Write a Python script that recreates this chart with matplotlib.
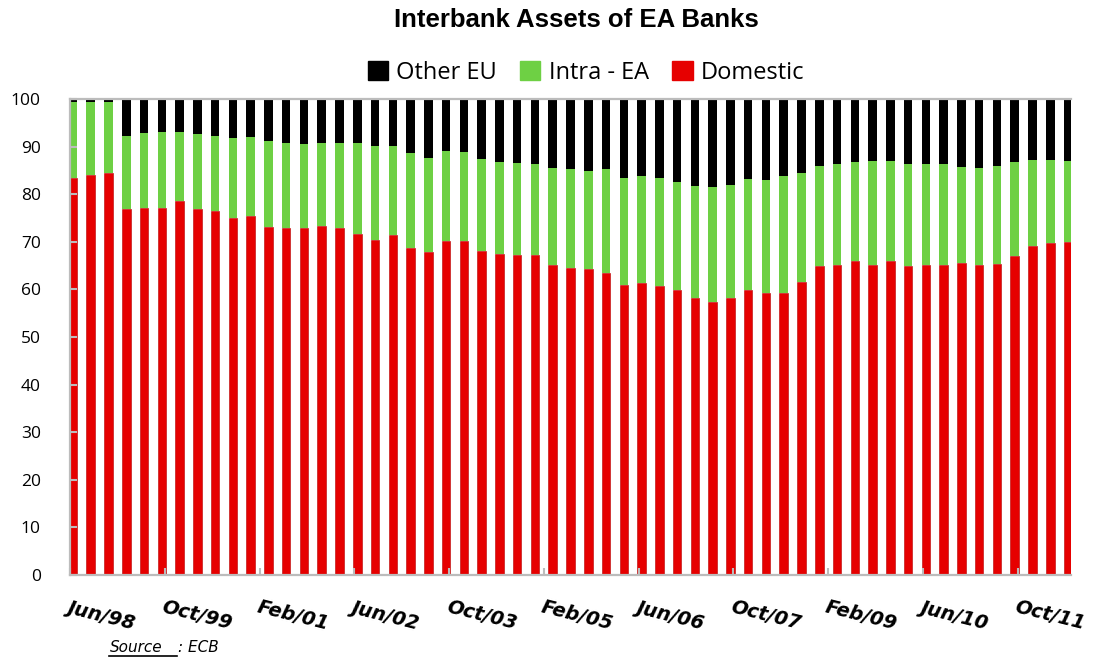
import numpy as np
import pandas as pd
import matplotlib
matplotlib.use("Agg")
import matplotlib.pyplot as plt
from matplotlib import font_manager as fm
from matplotlib.patches import Patch
from matplotlib.lines import Line2D


# quarterly observations, Jun 1998 .. Jun 2012 (shares in %)
quarters = pd.date_range("1998-06-01", periods=57, freq="3MS")

domestic = [83.4, 84.1, 84.5, 76.8, 77.2, 77.0, 78.5, 76.8, 76.4, 75.1,
            75.5, 73.2, 73.0, 73.0, 73.3, 72.8, 71.6, 70.4, 71.4, 68.6,
            67.8, 70.2, 70.2, 68.1, 67.4, 67.2, 67.2, 65.2, 64.4, 64.2,
            63.5, 61.0, 61.3, 60.8, 59.8, 58.2, 57.4, 58.2, 59.9, 59.2,
            59.2, 61.5, 65.0, 65.2, 65.9, 65.2, 65.9, 65.0, 65.2, 65.2,
            65.6, 65.2, 65.4, 67.1, 69.1, 69.7, 70.0]
intra_ea = [16.0, 15.2, 14.8, 15.4, 15.6, 16.0, 14.6, 15.8, 15.8, 16.7,
            16.5, 18.0, 17.7, 17.5, 17.4, 17.9, 19.1, 19.7, 18.7, 20.0,
            19.9, 18.8, 18.6, 19.2, 19.4, 19.4, 19.2, 20.4, 20.8, 20.7,
            21.7, 22.3, 22.5, 22.5, 22.7, 23.5, 24.1, 23.7, 23.3, 23.7,
            24.6, 23.0, 21.0, 21.2, 20.9, 21.8, 21.1, 21.4, 21.2, 21.2,
            20.2, 20.4, 20.6, 19.7, 18.1, 17.5, 17.0]
other_eu = [0.6, 0.7, 0.7, 7.8, 7.2, 7.0, 6.9, 7.4, 7.8, 8.2,
            8.0, 8.8, 9.3, 9.5, 9.3, 9.3, 9.3, 9.9, 9.9, 11.4,
            12.3, 11.0, 11.2, 12.7, 13.2, 13.4, 13.6, 14.4, 14.8, 15.1,
            14.8, 16.7, 16.2, 16.7, 17.5, 18.3, 18.5, 18.1, 16.8, 17.1,
            16.2, 15.5, 14.0, 13.6, 13.2, 13.0, 13.0, 13.6, 13.6, 13.6,
            14.2, 14.4, 14.0, 13.2, 12.8, 12.8, 13.0]

tick_dates = pd.date_range("1998-06-01", periods=11, freq="16MS")

RED = "#e60000"
GREEN = "#6ed044"
BLACK = "#000000"
GREY = "#bcbcbc"


def _months(d):  # months since Jun/98
    return (d.year - 1998) * 12 + d.month - 6


x = np.array([_months(d) for d in quarters]) + 0.5
dom = np.array(domestic)
intra = np.array(intra_ea)
oth = np.array(other_eu)

fig = plt.figure(figsize=(10.94, 6.6), dpi=100)
ax = fig.add_axes([70 / 1094, 1 - 575 / 660, 1001 / 1094, 476 / 660])

w = 1.45
ax.bar(x, dom, width=w, color=RED, edgecolor="#b80000", linewidth=0.4)
ax.bar(x, intra, width=w, bottom=dom, color=GREEN, linewidth=0)
ax.bar(x, oth, width=w, bottom=dom + intra, color=BLACK, linewidth=0)

ax.set_xlim(0, _months(quarters[-1]) + 1)
ax.set_ylim(0, 100)
ax.set_yticks(np.arange(0, 101, 10))
ax.tick_params(axis="y", direction="in", length=5, width=1.5, color=GREY,
               labelsize=12.5, pad=21)
for lab in ax.get_yticklabels():
    lab.set_fontfamily("Open Sans")

ax.set_xticks([_months(d) for d in tick_dates])
ax.set_xticklabels([d.strftime("%b/%y") for d in tick_dates],
                   rotation=-14, ha="left", va="top", rotation_mode="anchor",
                   fontsize=14, fontstyle="italic", fontweight="bold",
                   fontfamily="DejaVu Sans")
ax.tick_params(axis="x", direction="in", length=5, width=1.5, color=GREY, pad=16)

for s in ["left", "bottom", "top"]:
    ax.spines[s].set_color(GREY)
    ax.spines[s].set_linewidth(1.6)
ax.spines["right"].set_visible(False)

fig.text(576 / 1094, 1 - 27 / 660, "Interbank Assets of EA Banks",
         ha="center", va="baseline", fontsize=18.5, fontweight="bold",
         fontfamily="Liberation Sans")

handles = [Patch(color=BLACK), Patch(color=GREEN), Patch(color=RED)]
fig.legend(handles, ["Other EU", "Intra - EA", "Domestic"],
           loc="center", bbox_to_anchor=(586 / 1094, 1 - 73 / 660), ncol=3,
           frameon=False, prop={"family": "Open Sans", "size": 17},
           handlelength=0.85, handleheight=0.85, handletextpad=0.35,
           columnspacing=1.0, borderpad=0)

fig.text(110 / 1094, 1 - 652 / 660, "Source", fontsize=11, fontstyle="italic",
         fontfamily="DejaVu Sans", va="baseline")
fig.text(178 / 1094, 1 - 652 / 660, ": ECB", fontsize=11, fontstyle="italic",
         fontfamily="DejaVu Sans", va="baseline")
fig.add_artist(Line2D([109 / 1094, 177 / 1094], [1 - 656 / 660, 1 - 656 / 660],
                      color="black", linewidth=1.2, transform=fig.transFigure))

fig.savefig("out.png", dpi=100)
